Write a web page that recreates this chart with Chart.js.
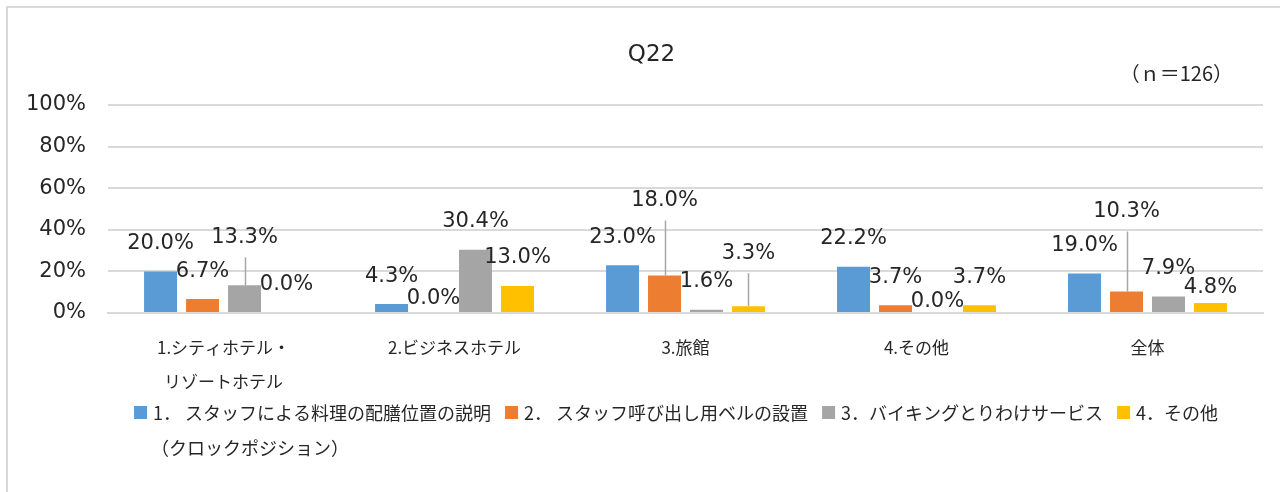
<!DOCTYPE html>
<html lang="ja">
<head>
<meta charset="utf-8">
<title>Q22</title>
<script src="https://cdn.jsdelivr.net/npm/chart.js@4.4.1/dist/chart.umd.min.js"></script>
<style>
  html, body { margin: 0; padding: 0; background: #fff; overflow: hidden; }
  #frame {
    position: absolute; left: 6px; top: 6px; width: 1300px; height: 500px;
    border-top: 2px solid #d9d9d9; border-left: 2px solid #d9d9d9;
  }
  #box { position: absolute; left: 0; top: 0; width: 1272px; height: 484px; }
</style>
</head>
<body>
<div id="frame"><div id="box"><canvas id="myChart"></canvas></div></div>
<script>
// 区分 (x軸)
const categories = [["1.シティホテル・", "リゾートホテル"], "2.ビジネスホテル", "3.旅館", "4.その他", "全体"];

// 凡例
const seriesNames = [
    "1． スタッフによる料理の配膳位置の説明\n（クロックポジション）",
    "2． スタッフ呼び出し用ベルの設置",
    "3．バイキングとりわけサービス",
    "4．その他"
];

// 値 (%)
const clockPosition = [20.0, 4.3, 23.0, 22.2, 19.0];
const staffBell = [6.7, 0.0, 18.0, 3.7, 10.3];
const buffetService = [13.3, 30.4, 1.6, 0.0, 7.9];
const otherValues = [0.0, 13.0, 3.3, 3.7, 4.8];

// y軸目盛
const yTicks = [0, 20, 40, 60, 80, 100];

const seriesColors = ["#5b9bd5", "#ed7d31", "#a5a5a5", "#ffc000"];

// ラベルの上下ずらし (px, マイナスで上)
const labelShift = [
    [0, 0, 0, 0, 0],
    [0, 14, -47, 0, -52],
    [-20, 0, 0, 17, 0],
    [0, 0, -25, 0, 13]
];

const textColor = "#262626";
const gridColor = "#d9d9d9";

// データラベル + 引き出し線
const barLabels = {
    id: 'barLabels',
    afterDatasetsDraw(chart) {
        const ctx = chart.ctx;
        ctx.save();
        ctx.font = '21px "DejaVu Sans"';
        ctx.textAlign = 'center';
        ctx.textBaseline = 'middle';
        chart.data.datasets.forEach((ds, di) => {
            const meta = chart.getDatasetMeta(di);
            meta.data.forEach((bar, i) => {
                const shift = labelShift[di][i];
                const y = bar.y - 28 + shift;
                if (shift < -10) {
                    ctx.strokeStyle = "#a6a6a6";
                    ctx.lineWidth = 1.5;
                    ctx.beginPath();
                    ctx.moveTo(Math.round(bar.x) + 0.5, y + 20);
                    ctx.lineTo(Math.round(bar.x) + 0.5, bar.y);
                    ctx.stroke();
                }
                ctx.fillStyle = textColor;
                ctx.fillText(ds.data[i].toFixed(1) + '%', bar.x, y);
            });
        });
        ctx.restore();
    }
};

// タイトル, n= 表示, 凡例
const extras = {
    id: 'extras',
    afterDraw(chart) {
        const ctx = chart.ctx;
        const area = chart.chartArea;
        ctx.save();
        ctx.fillStyle = textColor;
        ctx.textBaseline = 'middle';

        ctx.font = '23px "DejaVu Sans"';
        ctx.textAlign = 'center';
        ctx.fillText("Q22", (area.left + area.right) / 2 - 34, area.top - 50);

        ctx.font = '20px "Noto Sans CJK JP"';
        ctx.textAlign = 'right';
        ctx.fillText("（ｎ＝126）", area.right - 30, area.top - 32);

        // 凡例
        ctx.textAlign = 'left';
        ctx.font = '18px "Noto Sans CJK JP"';
        let x = area.left + 26;
        const y1 = area.bottom + 100;
        const y2 = area.bottom + 135;
        seriesNames.forEach((name, i) => {
            const lines = name.split("\n");
            ctx.fillStyle = seriesColors[i];
            ctx.fillRect(x, y1 - 7, 13, 13);
            const tx = x + 19;
            ctx.fillStyle = textColor;
            ctx.fillText(lines[0], tx, y1);
            if (lines[1]) ctx.fillText(lines[1], tx - 2, y2);
            x = tx + ctx.measureText(lines[0]).width + 14;
        });
        ctx.restore();
    }
};

const datasets = [clockPosition, staffBell, buffetService, otherValues].map((vals, i) => ({
    label: seriesNames[i].replace("\n", ""),
    data: vals,
    backgroundColor: seriesColors[i],
    borderWidth: 0,
    barPercentage: 0.786,
    categoryPercentage: 0.727
}));

const ctx = document.getElementById("myChart").getContext("2d");
window.currentChart = new Chart(ctx, {
    type: 'bar',
    data: { labels: categories, datasets: datasets },
    options: {
        responsive: true,
        maintainAspectRatio: false,
        animation: false,
        devicePixelRatio: 1,
        layout: { padding: { left: -4, right: 17, top: 97, bottom: 75 } },
        plugins: {
            legend: { display: false },
            tooltip: { enabled: false },
            title: { display: false }
        },
        scales: {
            x: {
                grid: { display: false, drawTicks: false },
                border: { display: true, color: gridColor, width: 2 },
                ticks: {
                    color: textColor,
                    font: { family: '"Noto Sans CJK JP"', size: 17, lineHeight: 2 },
                    padding: 18,
                    maxRotation: 0,
                    autoSkip: false
                }
            },
            y: {
                min: yTicks[0],
                max: yTicks[yTicks.length - 1],
                afterBuildTicks(axis) {
                    axis.ticks = yTicks.map(v => ({ value: v }));
                },
                grid: { color: gridColor, lineWidth: 2, drawTicks: false },
                border: { display: false },
                ticks: {
                    color: textColor,
                    font: { family: '"DejaVu Sans"', size: 21 },
                    padding: 22,
                    callback: v => v + '%'
                }
            }
        }
    },
    plugins: [barLabels, extras]
});
</script>
</body>
</html>
